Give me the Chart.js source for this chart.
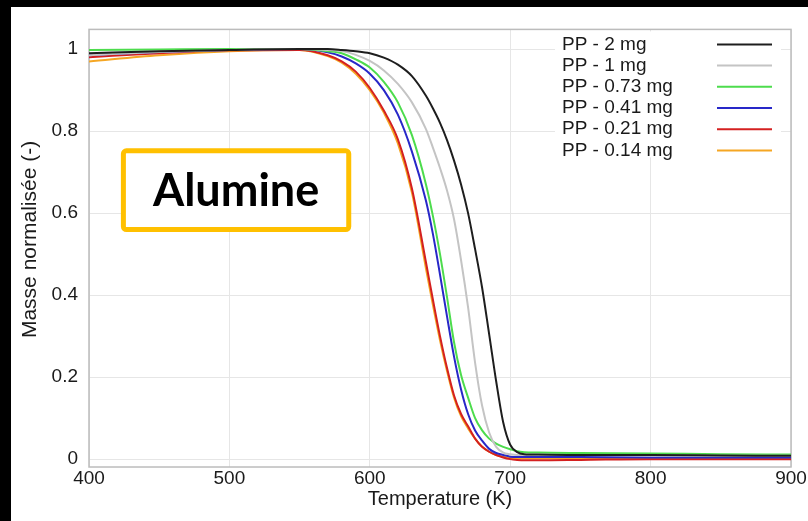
<!DOCTYPE html>
<html>
<head>
<meta charset="utf-8">
<script src="https://cdn.jsdelivr.net/npm/chart.js@4/dist/chart.umd.min.js"></script>
<style>
  html, body { margin: 0; padding: 0; background: #000; }
  #wrap { position: absolute; left: 11px; top: 7px; width: 797px; height: 514px; background: #fff; }
</style>
</head>
<body>
<div id="wrap"><canvas id="tga" width="797" height="514"></canvas></div>
<script>
// temperature grid (K) shared by all runs
const temps = [400, 450, 500, 550, 570, 580, 590, 600, 610, 620, 630, 640, 645, 650, 655, 660,
               665, 670, 675, 680, 685, 690, 695, 700, 705, 710, 720, 750, 800, 850, 900];

// normalised mass for each sample mass
const pp2mg  = [0.990, 0.995, 0.998, 1.000, 1.000, 0.998, 0.995, 0.990, 0.979, 0.962, 0.934, 0.886, 0.855, 0.820, 0.778, 0.728,
                0.670, 0.600, 0.512, 0.418, 0.305, 0.190, 0.090, 0.035, 0.017, 0.012, 0.011, 0.010, 0.010, 0.009, 0.008];
const pp1mg  = [0.985, 0.993, 0.998, 1.000, 0.998, 0.995, 0.986, 0.971, 0.948, 0.915, 0.870, 0.805, 0.759, 0.710, 0.655, 0.585,
                0.485, 0.370, 0.235, 0.130, 0.065, 0.030, 0.016, 0.012, 0.010, 0.010, 0.010, 0.010, 0.009, 0.008, 0.008];
const pp073  = [0.998, 0.999, 1.000, 1.000, 0.995, 0.990, 0.975, 0.955, 0.920, 0.870, 0.790, 0.670, 0.592, 0.500, 0.395, 0.285,
                0.205, 0.150, 0.100, 0.070, 0.050, 0.038, 0.030, 0.024, 0.019, 0.017, 0.016, 0.015, 0.014, 0.012, 0.011];
const pp041  = [0.985, 0.993, 0.998, 1.000, 0.992, 0.982, 0.965, 0.940, 0.900, 0.840, 0.750, 0.630, 0.548, 0.450, 0.348, 0.250,
                0.170, 0.110, 0.070, 0.045, 0.025, 0.015, 0.010, 0.006, 0.005, 0.005, 0.005, 0.005, 0.004, 0.004, 0.004];
const pp021  = [0.980, 0.990, 0.997, 0.998, 0.985, 0.970, 0.945, 0.905, 0.850, 0.780, 0.660, 0.480, 0.388, 0.300, 0.222, 0.155,
                0.110, 0.080, 0.050, 0.030, 0.018, 0.010, 0.004, 0.000, -0.002, -0.003, -0.003, -0.002, 0.000, 0.000, 0.000];
const pp014  = [0.970, 0.985, 0.995, 0.998, 0.983, 0.967, 0.940, 0.900, 0.845, 0.770, 0.650, 0.465, 0.375, 0.290, 0.215, 0.150,
                0.105, 0.075, 0.050, 0.030, 0.018, 0.010, 0.006, 0.003, 0.002, 0.002, 0.002, 0.002, 0.002, 0.002, 0.002];

const seriesLabels = ['PP - 2 mg', 'PP - 1 mg', 'PP - 0.73 mg', 'PP - 0.41 mg', 'PP - 0.21 mg', 'PP - 0.14 mg'];
const seriesValues = [pp2mg, pp1mg, pp073, pp041, pp021, pp014];
const seriesColors = ['#1e1e1e', '#c4c4c4', '#4ddc4d', '#2828c8', '#d42020', '#f5a623'];

const xTicks = [400, 500, 600, 700, 800, 900];
const yTicks = [0, 0.2, 0.4, 0.6, 0.8, 1];

const FONT = '"Liberation Sans", Arial, sans-serif';

// frame round the plot area
const frame = {
  id: 'frame',
  beforeDatasetsDraw(chart) {
    const {ctx, chartArea: a} = chart;
    ctx.save();
    ctx.strokeStyle = '#bcbcbc';
    ctx.lineWidth = 1.5;
    ctx.strokeRect(a.left, a.top, a.right - a.left, a.bottom - a.top);
    ctx.restore();
  }
};

// legend: label on the left, line sample on the right, on a white block
const sideLegend = {
  id: 'sideLegend',
  afterDatasetsDraw(chart) {
    const {ctx, chartArea: a} = chart;
    ctx.save();
    ctx.fillStyle = '#fff';
    ctx.fillRect(a.right - 236, a.top + 2, 226, 126);
    ctx.font = '19px ' + FONT;
    ctx.textBaseline = 'middle';
    ctx.textAlign = 'left';
    chart.data.datasets.forEach((ds, i) => {
      const y = a.top + 15 + i * 21.2;
      ctx.fillStyle = '#1a1a1a';
      ctx.fillText(ds.label, a.right - 229, y);
      ctx.strokeStyle = ds.borderColor;
      ctx.lineWidth = 2;
      ctx.beginPath();
      ctx.moveTo(a.right - 74, y);
      ctx.lineTo(a.right - 19, y);
      ctx.stroke();
    });
    ctx.restore();
  }
};

// boxed material name
const materialTag = {
  id: 'materialTag',
  afterDatasetsDraw(chart, args, opts) {
    const {ctx} = chart;
    const xs = chart.scales.x, ys = chart.scales.y;
    const x0 = xs.getPixelForValue(opts.from[0]), x1 = xs.getPixelForValue(opts.to[0]);
    const y0 = ys.getPixelForValue(opts.from[1]), y1 = ys.getPixelForValue(opts.to[1]);
    ctx.save();
    ctx.fillStyle = '#fff';
    ctx.strokeStyle = '#ffc000';
    ctx.lineWidth = 5;
    ctx.beginPath();
    ctx.roundRect(x0, y0, x1 - x0, y1 - y0, 3);
    ctx.fill();
    ctx.stroke();
    ctx.fillStyle = '#000';
    ctx.font = 'bold 45px Lato, "Open Sans", sans-serif';
    ctx.textAlign = 'center';
    ctx.textBaseline = 'middle';
    ctx.fillText(opts.text, (x0 + x1) / 2, (y0 + y1) / 2 + 1);
    ctx.restore();
  }
};

const datasets = seriesValues.map((vals, i) => ({
  label: seriesLabels[i],
  data: temps.map((t, j) => ({x: t, y: vals[j]})),
  borderColor: seriesColors[i],
  borderWidth: 2,
  pointRadius: 0,
  fill: false,
  cubicInterpolationMode: 'monotone'
}));

new Chart(document.getElementById('tga'), {
  type: 'line',
  data: {datasets: datasets},
  plugins: [frame, sideLegend, materialTag],
  options: {
    responsive: false,
    animation: false,
    layout: {padding: {top: 16, right: 17, left: 0, bottom: 0}},
    plugins: {
      legend: {display: false},
      tooltip: {enabled: false},
      materialTag: {text: 'Alumine', from: [424.5, 0.752], to: [585, 0.560]}
    },
    scales: {
      x: {
        type: 'linear',
        min: 400,
        max: 900,
        afterBuildTicks: (s) => { s.ticks = xTicks.map(v => ({value: v})); },
        afterFit: (s) => { s.height = 54; },
        grid: {color: '#e6e6e6', drawTicks: false},
        border: {display: false},
        ticks: {
          padding: 0,
          autoSkip: false,
          maxRotation: 0,
          color: '#1a1a1a',
          font: {family: FONT, size: 19}
        },
        title: {
          display: true,
          text: 'Temperature (K)',
          color: '#1a1a1a',
          font: {family: FONT, size: 20},
          padding: {top: 0, bottom: 10}
        }
      },
      y: {
        min: -0.0192,
        max: 1.048,
        afterBuildTicks: (s) => { s.ticks = yTicks.map(v => ({value: v})); },
        afterFit: (s) => { s.width = 78; },
        grid: {color: '#e6e6e6', drawTicks: false},
        border: {display: false},
        ticks: {
          padding: 11,
          color: '#1a1a1a',
          font: {family: FONT, size: 19},
          callback: (v) => String(v)
        },
        title: {
          display: true,
          // leading spaces lift the rotated title a little above the axis middle
          text: '   Masse normalisée (-)',
          color: '#1a1a1a',
          font: {family: FONT, size: 21},
          padding: {top: 7, bottom: 0}
        }
      }
    }
  }
});
</script>
</body>
</html>
